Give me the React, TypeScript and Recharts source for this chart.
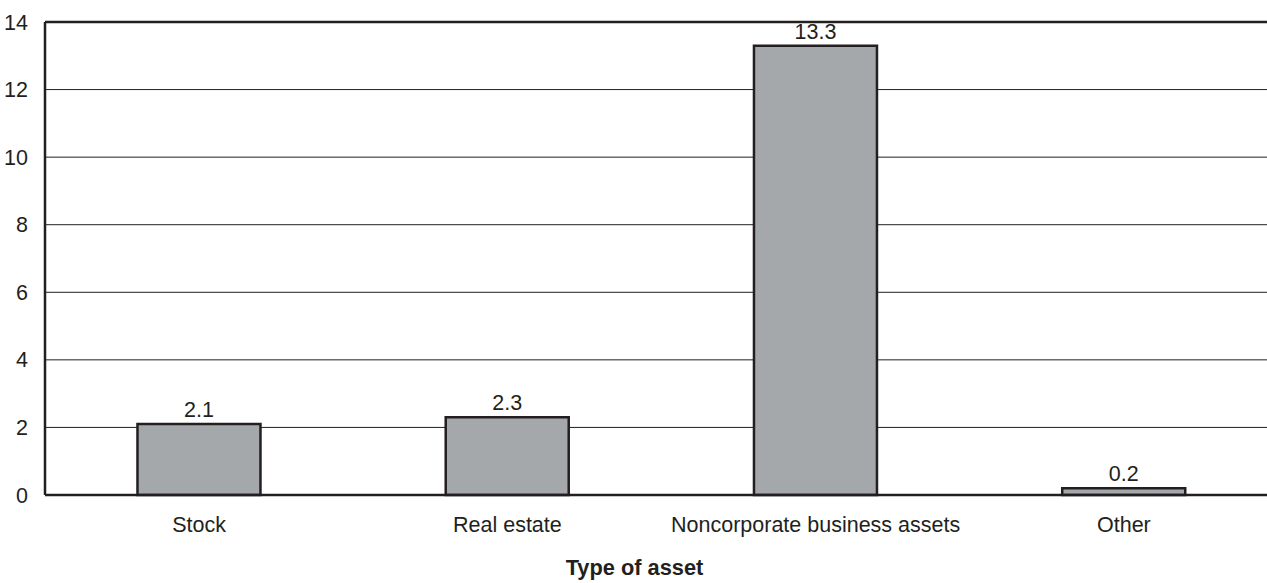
import React from "react";
import {
  BarChart,
  Bar,
  XAxis,
  YAxis,
  CartesianGrid,
  LabelList,
  ReferenceLine,
} from "recharts";

const categories = ["Stock", "Real estate", "Noncorporate business assets", "Other"];
const values = [2.1, 2.3, 13.3, 0.2];
const yTicks = [0, 2, 4, 6, 8, 10, 12, 14];
const xTitle = "Type of asset";

const data = categories.map((name, i) => ({ name, value: values[i] }));

const FONT = "'Liberation Sans', Arial, Helvetica, sans-serif";
const INK = "#231f20";
const FS = 21.5;

export default function App() {
  return (
    <div style={{ position: "absolute", left: 0, top: 0, width: 1267, height: 583, background: "#fff", overflow: "hidden" }}>
      <BarChart
        width={1267}
        height={583}
        data={data}
        margin={{ top: 22, right: -11, bottom: 0, left: 0 }}
        barCategoryGap="30%"
        style={{ fontFamily: FONT, overflow: "visible" }}
      >
        <CartesianGrid vertical={false} horizontal stroke={INK} strokeWidth={1} />
        <ReferenceLine y={14} stroke={INK} strokeWidth={2.5} ifOverflow="extendDomain" />
        <XAxis
          dataKey="name"
          height={88}
          tickLine={false}
          tickSize={6}
          tickMargin={16}
          axisLine={{ stroke: INK, strokeWidth: 2.5 }}
          tick={{ fill: INK, fontSize: FS, fontFamily: FONT }}
          label={{
            value: xTitle,
            position: "insideBottom",
            offset: 8,
            dx: -27,
            fill: INK,
            fontSize: 21.8,
            fontWeight: "bold",
            fontFamily: FONT,
          }}
        />
        <YAxis
          width={45}
          domain={[0, 14]}
          ticks={yTicks}
          interval={0}
          tickLine={false}
          tickSize={6}
          tickMargin={11}
          axisLine={{ stroke: INK, strokeWidth: 2.5 }}
          tick={{ fill: INK, fontSize: FS, fontFamily: FONT }}
        />
        <Bar dataKey="value" fill="#a5a8ab" stroke={INK} strokeWidth={2.5} isAnimationActive={false}>
          <LabelList
            dataKey="value"
            position="top"
            offset={7}
            fill={INK}
            fontSize={FS}
            fontFamily={FONT}
          />
        </Bar>
      </BarChart>
    </div>
  );
}
